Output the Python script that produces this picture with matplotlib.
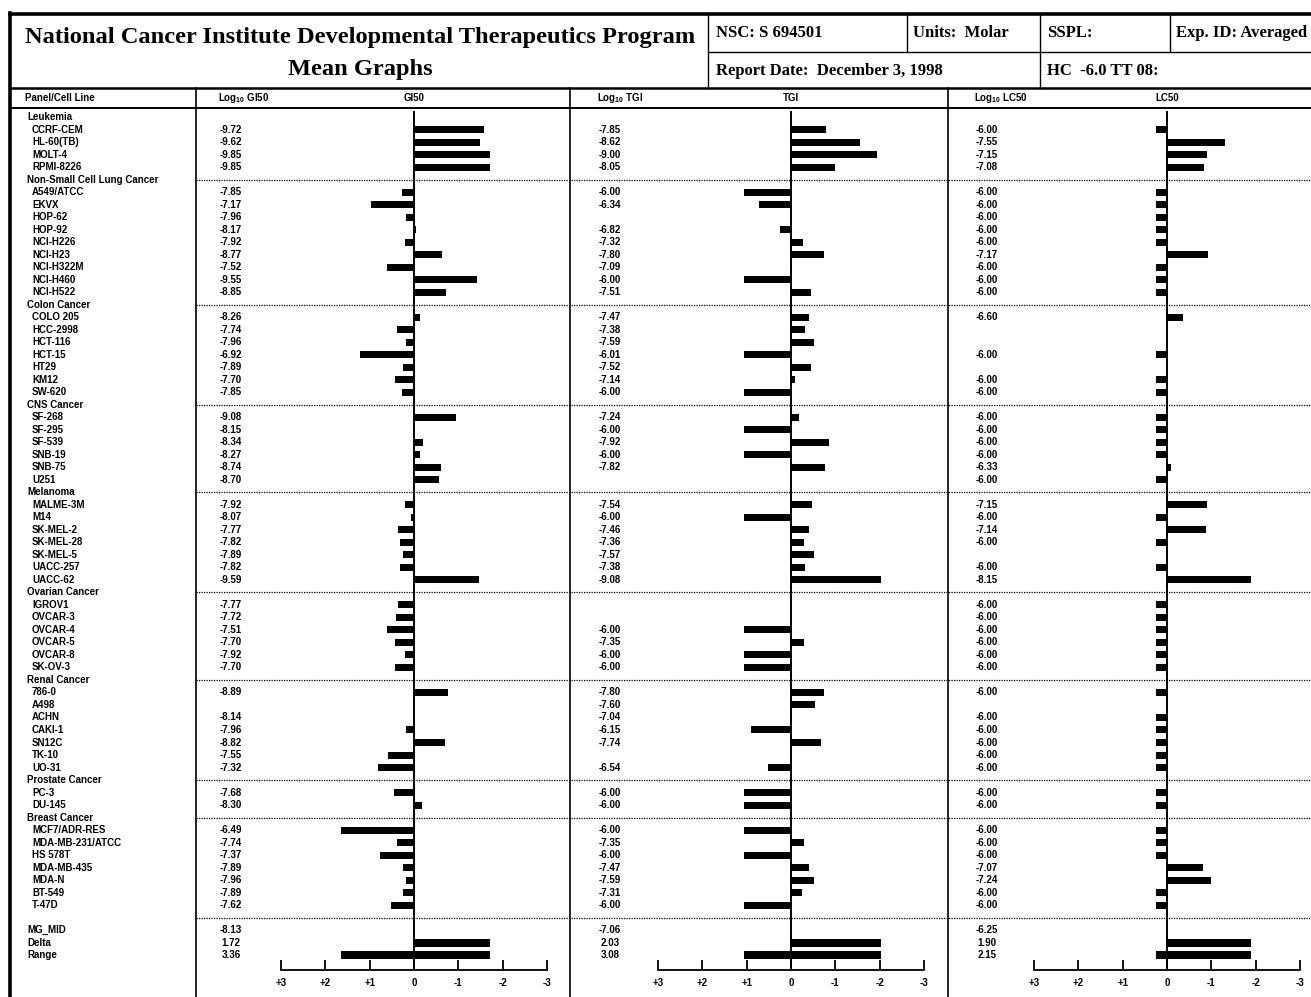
import numpy as np
import matplotlib
matplotlib.use("Agg")
import matplotlib.pyplot as plt

plt.rcParams['mathtext.default'] = 'regular'

# panels and cell lines
panels = ["Leukemia", "Non-Small Cell Lung Cancer", "Colon Cancer", "CNS Cancer",
          "Melanoma", "Ovarian Cancer", "Renal Cancer", "Prostate Cancer", "Breast Cancer"]
cell_lines = [
    ["CCRF-CEM", "HL-60(TB)", "MOLT-4", "RPMI-8226"],
    ["A549/ATCC", "EKVX", "HOP-62", "HOP-92", "NCI-H226", "NCI-H23", "NCI-H322M",
     "NCI-H460", "NCI-H522"],
    ["COLO 205", "HCC-2998", "HCT-116", "HCT-15", "HT29", "KM12", "SW-620"],
    ["SF-268", "SF-295", "SF-539", "SNB-19", "SNB-75", "U251"],
    ["MALME-3M", "M14", "SK-MEL-2", "SK-MEL-28", "SK-MEL-5", "UACC-257", "UACC-62"],
    ["IGROV1", "OVCAR-3", "OVCAR-4", "OVCAR-5", "OVCAR-8", "SK-OV-3"],
    ["786-0", "A498", "ACHN", "CAKI-1", "SN12C", "TK-10", "UO-31"],
    ["PC-3", "DU-145"],
    ["MCF7/ADR-RES", "MDA-MB-231/ATCC", "HS 578T", "MDA-MB-435", "MDA-N", "BT-549", "T-47D"],
]

nan = np.nan
gi50 = [-9.72, -9.62, -9.85, -9.85,
        -7.85, -7.17, -7.96, -8.17, -7.92, -8.77, -7.52, -9.55, -8.85,
        -8.26, -7.74, -7.96, -6.92, -7.89, -7.70, -7.85,
        -9.08, -8.15, -8.34, -8.27, -8.74, -8.70,
        -7.92, -8.07, -7.77, -7.82, -7.89, -7.82, -9.59,
        -7.77, -7.72, -7.51, -7.70, -7.92, -7.70,
        -8.89, nan, -8.14, -7.96, -8.82, -7.55, -7.32,
        -7.68, -8.30,
        -6.49, -7.74, -7.37, -7.89, -7.96, -7.89, -7.62]
tgi = [-7.85, -8.62, -9.00, -8.05,
       -6.00, -6.34, nan, -6.82, -7.32, -7.80, -7.09, -6.00, -7.51,
       -7.47, -7.38, -7.59, -6.01, -7.52, -7.14, -6.00,
       -7.24, -6.00, -7.92, -6.00, -7.82, nan,
       -7.54, -6.00, -7.46, -7.36, -7.57, -7.38, -9.08,
       nan, nan, -6.00, -7.35, -6.00, -6.00,
       -7.80, -7.60, -7.04, -6.15, -7.74, nan, -6.54,
       -6.00, -6.00,
       -6.00, -7.35, -6.00, -7.47, -7.59, -7.31, -6.00]
lc50 = [-6.00, -7.55, -7.15, -7.08,
        -6.00, -6.00, -6.00, -6.00, -6.00, -7.17, -6.00, -6.00, -6.00,
        -6.60, nan, nan, -6.00, nan, -6.00, -6.00,
        -6.00, -6.00, -6.00, -6.00, -6.33, -6.00,
        -7.15, -6.00, -7.14, -6.00, nan, -6.00, -8.15,
        -6.00, -6.00, -6.00, -6.00, -6.00, -6.00,
        -6.00, nan, -6.00, -6.00, -6.00, -6.00, -6.00,
        -6.00, -6.00,
        -6.00, -6.00, -6.00, -7.07, -7.24, -6.00, -6.00]

mg_mid = [-8.13, -7.06, -6.25]
delta = [1.72, 2.03, 1.90]
rng = [3.36, 3.08, 2.15]
measures = ["GI50", "TGI", "LC50"]
ticks = [3, 2, 1, 0, -1, -2, -3]
tick_labels = ["+3", "+2", "+1", "0", "-1", "-2", "-3"]

W, H = 1311, 997
ROW0, DROW = 117, 12.51
SANS = "Liberation Sans"
SERIF = "Liberation Serif"


def row_y(r):
    return ROW0 + DROW * r


def main():
    fig = plt.figure(figsize=(W / 100, H / 100), dpi=100)
    fr = fig.add_axes([0, 0, 1, 1])
    fr.set_xlim(0, W)
    fr.set_ylim(H, 0)
    fr.axis("off")

    # frame lines
    fr.plot([10, 10], [13, H], color="k", lw=2.6)
    fr.plot([10, W], [14, 14], color="k", lw=2.6)
    fr.plot([10, W], [88, 88], color="k", lw=1.8)
    fr.plot([10, W], [108, 108], color="k", lw=1.4)
    fr.plot([708, W], [52, 52], color="k", lw=1.0)
    fr.plot([708, 708], [14, 88], color="k", lw=1.0)
    fr.plot([907, 907], [14, 52], color="k", lw=1.0)
    fr.plot([1040, 1040], [14, 88], color="k", lw=1.0)
    fr.plot([1170, 1170], [14, 52], color="k", lw=1.0)
    for x in [196, 570, 948]:
        fr.plot([x, x], [88, H], color="k", lw=1.2)

    # title block
    fr.text(360, 37, "National Cancer Institute Developmental Therapeutics Program",
            ha="center", va="center", fontsize=17.6, fontweight="bold", family=SERIF)
    fr.text(360, 69, "Mean Graphs", ha="center", va="center", fontsize=17.6,
            fontweight="bold", family=SERIF)
    box = dict(va="center", ha="left", fontsize=12, fontweight="bold", family=SERIF)
    fr.text(716, 33, "NSC: S 694501", **box)
    fr.text(913, 33, "Units:  Molar", **box)
    fr.text(1047, 33, "SSPL:", **box)
    fr.text(1176, 33, "Exp. ID: Averaged", **box)
    fr.text(716, 71, "Report Date:  December 3, 1998", **box)
    fr.text(1047, 71, "HC  -6.0 TT 08:", **box)

    small = dict(fontsize=7, fontweight="bold", family=SANS, va="center")
    fr.text(25, 98, "Panel/Cell Line", ha="left", **small)
    log_x = [231, 610, 987]
    bar_x0 = [281, 658, 1034]
    for m, lx, bx in zip(measures, log_x, bar_x0):
        fr.text(lx - 13, 98, "Log$_{10}$ " + m, ha="left", **small)
        fr.text(bx + 133, 98, m, ha="center", **small)

    # rows
    rows = []
    r = 0
    sep_rows = []
    for p, lines in zip(panels, cell_lines):
        if r > 0:
            sep_rows.append(r)
        fr.text(27, row_y(r), p, ha="left", **small)
        r += 1
        for name in lines:
            fr.text(32, row_y(r), name, ha="left", **small)
            rows.append(r)
            r += 1
    sep_rows.append(r)
    r_mid = r + 1
    for k, lab in enumerate(["MG_MID", "Delta", "Range"]):
        fr.text(27, row_y(r_mid + k), lab, ha="left", **small)
    for sr in sep_rows:
        fr.plot([196, W], [row_y(sr), row_y(sr)], color="k", lw=0.9,
                linestyle=(0, (1, 1)))

    rows = np.array(rows)
    y_top = (110 - ROW0) / DROW
    y_bot = (970 - ROW0) / DROW
    for vals, mid, d, rg, lx, bx in zip([gi50, tgi, lc50], mg_mid, delta, rng,
                                         log_x, bar_x0):
        vals = np.array(vals)
        for rr, v in zip(rows, vals):
            if not np.isnan(v):
                fr.text(lx, row_y(rr), f"{v:.2f}", ha="center", **small)
        for k, v in enumerate([f"{mid:.2f}", f"{d:.2f}", f"{rg:.2f}"]):
            fr.text(lx, row_y(r_mid + k), v, ha="center", **small)

        ax = fig.add_axes([bx / W, (H - 970) / H, 266 / W, 860 / H])
        ax.patch.set_alpha(0)
        ax.set_xlim(3, -3)
        ax.set_ylim(y_bot, y_top)
        ok = ~np.isnan(vals)
        ax.barh(rows[ok], vals[ok] - mid, height=0.56, color="k")
        ax.barh(r_mid + 1, -d, height=0.62, color="k")
        ax.barh(r_mid + 2, rg, left=-d, height=0.62, color="k")
        ax.vlines(0, -0.45, y_bot, color="k", lw=1.4)
        for s in ["top", "left", "right"]:
            ax.spines[s].set_visible(False)
        ax.spines["bottom"].set_linewidth(1.3)
        ax.set_yticks([])
        ax.set_xticks(ticks)
        ax.set_xticklabels(tick_labels)
        ax.tick_params(axis="x", direction="in", length=7, width=1.3, pad=6,
                       labelsize=7)
        for t in ax.get_xticklabels():
            t.set_fontweight("bold")
            t.set_family(SANS)

    fig.savefig("out.png", dpi=100)


if __name__ == '__main__':
    main()
